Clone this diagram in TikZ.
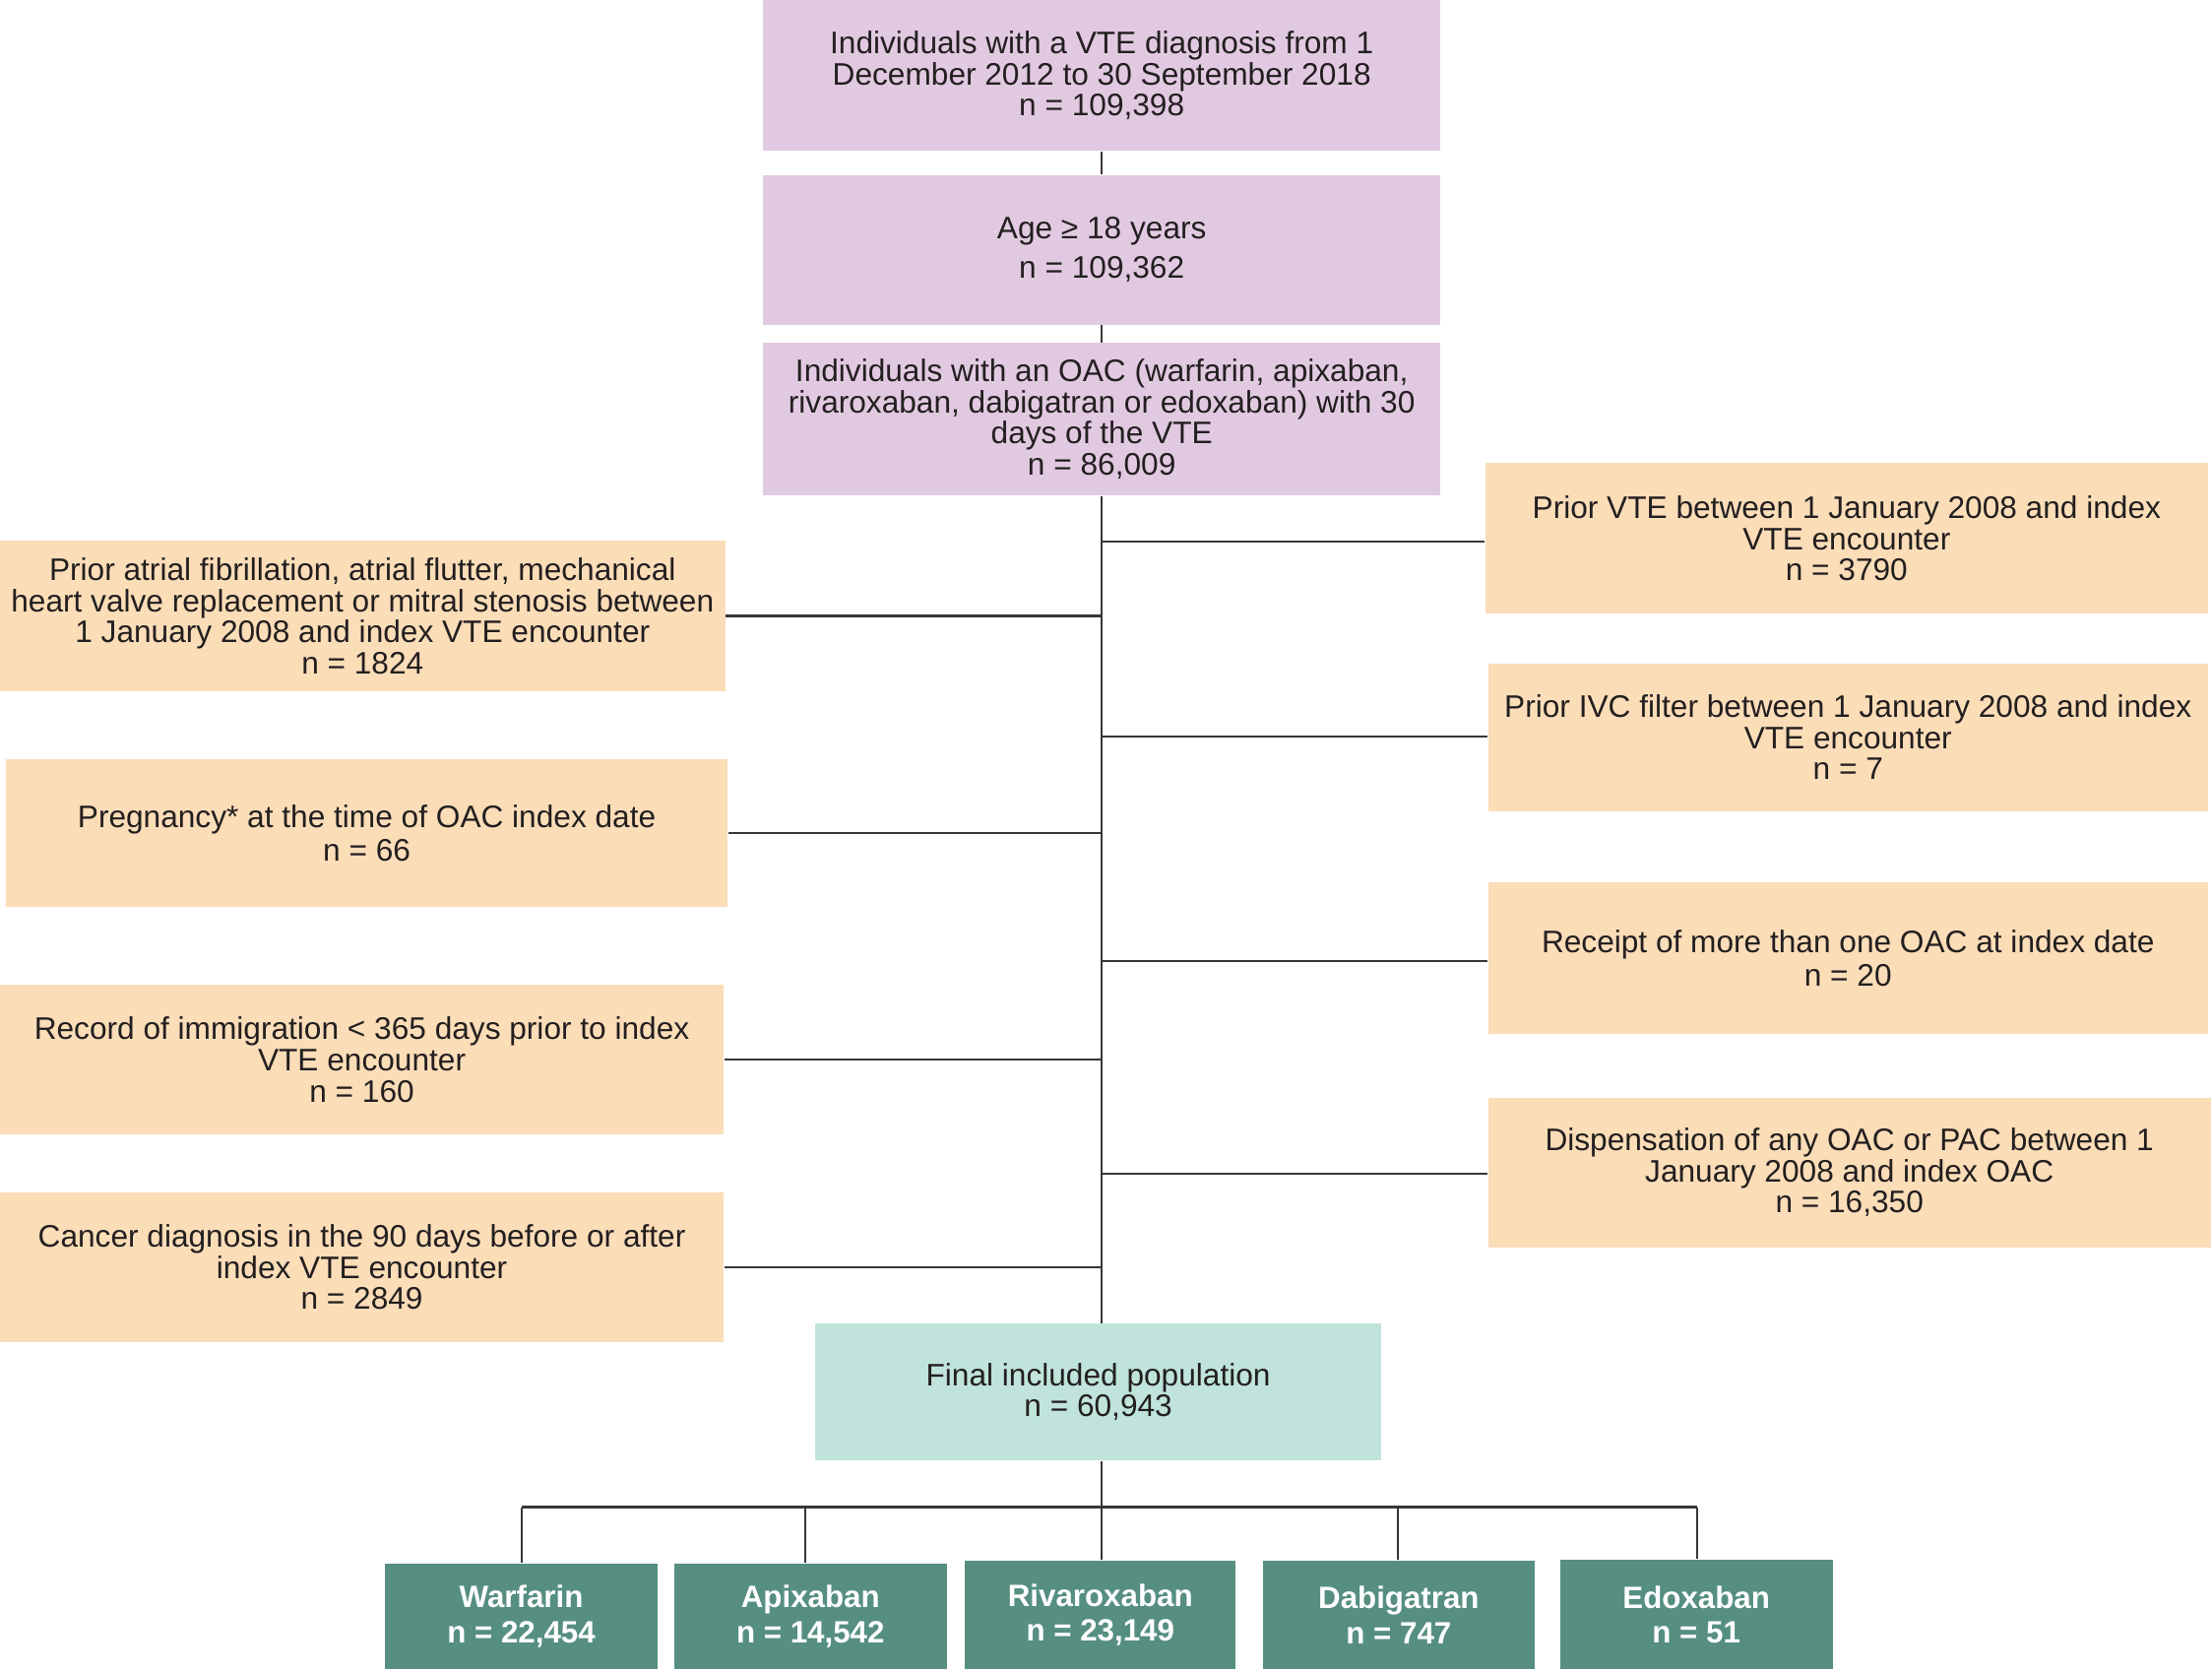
\documentclass[tikz,border=0pt]{standalone}
\usepackage{fontspec}
\setmainfont{Liberation Sans}
\newlength\U
\setlength\U{0.01433cm}
\definecolor{purp}{HTML}{E1CAE1}
\definecolor{peach}{HTML}{FBDDB8}
\definecolor{mint}{HTML}{C0E4DC}
\definecolor{teal}{HTML}{568F82}
\definecolor{ink}{HTML}{231F20}
\definecolor{ln}{HTML}{3A3637}
\tikzset{
  basebox/.style={rectangle, inner sep=0pt, align=center, text=ink,
    font=\fontsize{9}{9}\selectfont},
  pbox/.style={basebox, fill=purp, minimum width=480\U},
  ebox/.style={basebox, fill=peach},
  fbox/.style={basebox, fill=mint, minimum width=401\U, minimum height=97\U},
  dbox/.style={basebox, fill=teal, text=white, minimum width=193\U,
    font=\fontsize{8.9}{10}\selectfont\bfseries},
  conn/.style={draw=ln, line width=0.6pt},
}
\begin{document}
\begin{tikzpicture}[x=\U, y=-\U]
\useasboundingbox (0,0) rectangle (1568,1184);
% main column
\node[pbox, minimum height=107\U] (b1) at (781,53.5)
  {Individuals with a VTE diagnosis from 1\\December 2012 to 30 September 2018\\n = 109,398};
\node[pbox, minimum height=106\U, font=\fontsize{9}{11.2}\selectfont] (b2) at (781,177)
  {Age ≥ 18 years\\n = 109,362};
\node[pbox, minimum height=108\U] (b3) at (781,297)
  {Individuals with an OAC (warfarin, apixaban,\\rivaroxaban, dabigatran or edoxaban) with 30\\days of the VTE\\n = 86,009};
% left exclusions
\node[ebox, minimum width=514\U, minimum height=107\U] (l1) at (257,436.5)
  {Prior atrial fibrillation, atrial flutter, mechanical\\heart valve replacement or mitral stenosis between\\1 January 2008 and index VTE encounter\\n = 1824};
\node[ebox, minimum width=512\U, minimum height=105\U, font=\fontsize{9}{9.6}\selectfont] (l2) at (260,590.5)
  {Pregnancy* at the time of OAC index date\\n = 66};
\node[ebox, minimum width=513\U, minimum height=106\U] (l3) at (256.5,751)
  {Record of immigration < 365 days prior to index\\VTE encounter\\n = 160};
\node[ebox, minimum width=513\U, minimum height=106\U] (l4) at (256.5,898)
  {Cancer diagnosis in the 90 days before or after\\index VTE encounter\\n = 2849};
% right exclusions
\node[ebox, minimum width=512\U, minimum height=107\U] (r1) at (1309,381.5)
  {Prior VTE between 1 January 2008 and index\\VTE encounter\\n = 3790};
\node[ebox, minimum width=510\U, minimum height=105\U] (r2) at (1310,522.5)
  {Prior IVC filter between 1 January 2008 and index\\VTE encounter\\n = 7};
\node[ebox, minimum width=510\U, minimum height=108\U, font=\fontsize{9}{9.8}\selectfont] (r3) at (1310,679)
  {Receipt of more than one OAC at index date\\n = 20};
\node[ebox, minimum width=512\U, minimum height=106\U] (r4) at (1311,831)
  {Dispensation of any OAC or PAC between 1\\January 2008 and index OAC\\n = 16,350};
% final
\node[fbox] (fin) at (778.5,986.5) {Final included population\\n = 60,943};
% drugs
\node[dbox, minimum height=75\U] (war) at (369.5,1145.5) {Warfarin\\n = 22,454};
\node[dbox, minimum height=75\U] (api) at (574.5,1145.5) {Apixaban\\n = 14,542};
\node[dbox, minimum height=77\U, minimum width=192\U] (riv) at (780,1144.5) {Rivaroxaban\\n = 23,149};
\node[dbox, minimum height=77\U] (dab) at (991.5,1144.5) {Dabigatran\\n = 747};
\node[dbox, minimum height=78\U] (edo) at (1202.5,1144) {Edoxaban\\n = 51};
% connectors
\coordinate (spine) at (781,0);
\draw[conn] (b1.south) -- (b2.north);
\draw[conn] (b2.south) -- (b3.north);
\draw[conn] (b3.south) -- (b3.south |- fin.north);
\foreach \n in {l1,l2,l3,l4}
  \draw[conn] (\n.east) -- (\n.east -| spine);
\foreach \n/\y in {r1/384,r2/522,r3/681,r4/832}
  \draw[conn] (spine |- 0,\y) -- (\n.west |- 0,\y);
\coordinate (bus) at (781,1068);
\coordinate (busL) at (370,1068);
\coordinate (busR) at (1203,1068);
\draw[conn] (fin.south -| spine) -- (bus);
\draw[conn, line width=0.8pt] (busL) -- (busR);
\foreach \n/\x in {war/370,api/571,riv/781,dab/991,edo/1203}
  \draw[conn] (\x,1068) -- (\x,0 |- \n.north);
\end{tikzpicture}
\end{document}
